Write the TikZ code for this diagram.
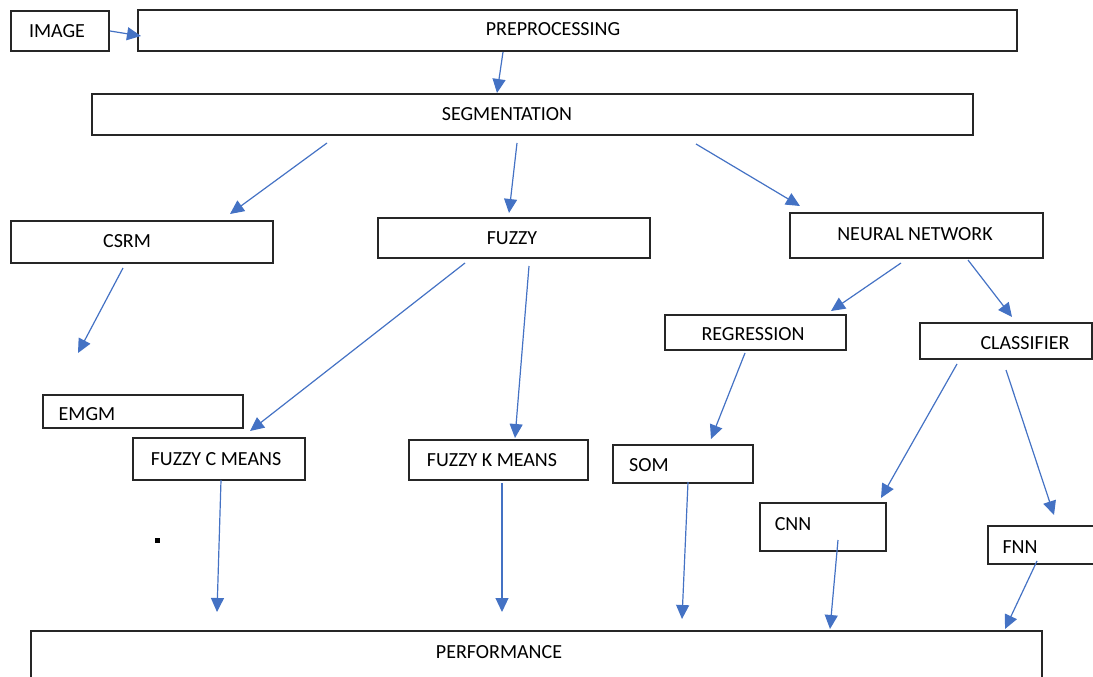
\documentclass[tikz,border=0pt]{standalone}
\usepackage{fontspec}
\setmainfont{Carlito}
\usetikzlibrary{arrows.meta}
\definecolor{arr}{HTML}{4472C4}
\tikzset{
  box/.style={draw=black!85, line width=1.6pt, inner sep=0pt, fill=none},
  txt/.style={inner sep=0pt, font=\fontsize{20}{22}\selectfont, text=black},
  ar/.style={draw=arr, line width=1.2pt, -{Triangle[length=14pt,width=13pt]}}
}
\begin{document}
\begin{tikzpicture}[x=1pt,y=-1pt]
\useasboundingbox (0,0) rectangle (1093,677);
\clip (0,0) rectangle (1093,677);
% boxes
\node[box, minimum width=98pt, minimum height=40pt] (img) at (60,31) {};
\node[box, minimum width=879pt, minimum height=41pt] (pre) at (577.5,30.5) {};
\node[box, minimum width=881pt, minimum height=41pt] (seg) at (532.5,114.5) {};
\node[box, minimum width=262pt, minimum height=42pt] (csrm) at (142,242) {};
\node[box, minimum width=272pt, minimum height=40pt] (fuz) at (514,238) {};
\node[box, minimum width=253pt, minimum height=45pt] (nn) at (916.5,235.5) {};
\node[box, minimum width=181pt, minimum height=35pt] (reg) at (755.5,332.5) {};
\node[box, minimum width=172pt, minimum height=36pt] (cls) at (1006,341) {};
\node[box, minimum width=200pt, minimum height=33pt] (emgm) at (143,411.5) {};
\node[box, minimum width=172pt, minimum height=42pt] (fcm) at (219,459) {};
\node[box, minimum width=179pt, minimum height=40pt] (fkm) at (498.5,460) {};
\node[box, minimum width=140pt, minimum height=38pt] (som) at (683,464) {};
\node[box, minimum width=126pt, minimum height=48pt] (cnn) at (823,527) {};
\node[box, minimum width=112pt, minimum height=38pt] (fnn) at (1044,545) {};
\node[box, minimum width=1011pt, minimum height=58pt] (perf) at (536.5,660) {};
% texts
\node[txt] (timg) at (57,31) {IMAGE};
\node[txt] (tpre) at (553,29) {PREPROCESSING};
\node[txt] (tseg) at (507,114) {SEGMENTATION};
\node[txt] (tcsrm) at (127,241) {CSRM};
\node[txt] (tfuz) at (512,238) {FUZZY};
\node[txt] (tnn) at (915,234) {NEURAL NETWORK};
\node[txt] (treg) at (753,334) {REGRESSION};
\node[txt] (tcls) at (1025,343) {CLASSIFIER};
\node[txt] (temgm) at (87,414) {EMGM};
\node[txt] (tfcm) at (216,459) {FUZZY C MEANS};
\node[txt] (tfkm) at (492,460) {FUZZY K MEANS};
\node[txt] (tsom) at (649,465) {SOM};
\node[txt] (tcnn) at (793,524) {CNN};
\node[txt] (tfnn) at (1020,547) {FNN};
\node[txt] (tperf) at (499,652) {PERFORMANCE};
% small mark
\node[fill=black, minimum size=5pt, inner sep=0pt] (dot) at (157,540) {};
% arrow end points
\coordinate (a1s) at (110,31);  \coordinate (a1e) at (141,36);
\coordinate (a2s) at (503,52);  \coordinate (a2e) at (497,93);
\coordinate (a3s) at (327,143); \coordinate (a3e) at (230,214);
\coordinate (a4s) at (517,143); \coordinate (a4e) at (509,213);
\coordinate (a5s) at (696,144); \coordinate (a5e) at (800,206);
\coordinate (a6s) at (123,268); \coordinate (a6e) at (78,353);
\coordinate (a7s) at (465,263); \coordinate (a7e) at (250,431);
\coordinate (a8s) at (529,266); \coordinate (a8e) at (515,438);
\coordinate (a9s) at (901,263); \coordinate (a9e) at (831,311);
\coordinate (a10s) at (968,260); \coordinate (a10e) at (1012,317);
\coordinate (a11s) at (745,353); \coordinate (a11e) at (711,439);
\coordinate (a12s) at (957,364); \coordinate (a12e) at (881,498);
\coordinate (a13s) at (1006,370); \coordinate (a13e) at (1054,515);
\coordinate (a14s) at (221,480); \coordinate (a14e) at (217,612);
\coordinate (a15s) at (502,483); \coordinate (a15e) at (502,612);
\coordinate (a16s) at (688,482); \coordinate (a16e) at (682,619);
\coordinate (a17s) at (838,540); \coordinate (a17e) at (830,629);
\coordinate (a18s) at (1037,561); \coordinate (a18e) at (1005,629);
% arrows
\foreach \i in {1,...,18} \draw[ar] (a\i s) -- (a\i e);
\end{tikzpicture}
\end{document}
